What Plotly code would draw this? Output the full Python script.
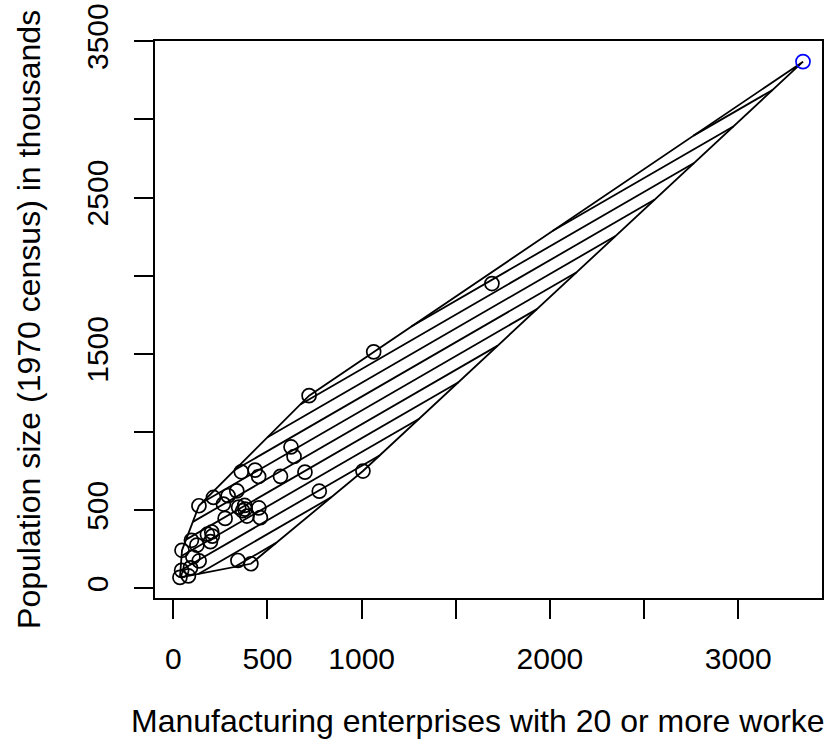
import math
import plotly.graph_objects as go

# US cities: manufacturing enterprises (>= 20 workers) and population (thousands, 1970 census)
cities = [
    "Albany", "Albuquerque", "Atlanta", "Baltimore", "Buffalo", "Charleston",
    "Chicago", "Cincinnati", "Cleveland", "Columbus", "Dallas", "Denver",
    "Des Moines", "Detroit", "Hartford", "Houston", "Indianapolis",
    "Jacksonville", "Kansas City", "Little Rock", "Louisville", "Memphis",
    "Miami", "Milwaukee", "Minneapolis", "Nashville", "New Orleans", "Norfolk",
    "Omaha", "Philadelphia", "Phoenix", "Pittsburgh", "Providence", "Richmond",
    "Salt Lake City", "San Francisco", "Seattle", "St. Louis", "Washington",
    "Wichita", "Wilmington",
]
manu = [44, 46, 368, 625, 391, 35, 3344, 462, 1007, 266, 641, 454, 104, 1064,
        412, 721, 361, 136, 381, 91, 291, 337, 207, 569, 699, 275, 204, 96,
        181, 1692, 213, 347, 343, 197, 137, 453, 379, 775, 434, 125, 80]
popul = [116, 244, 497, 905, 463, 71, 3369, 453, 751, 540, 844, 515, 201, 1513,
         158, 1233, 746, 529, 507, 132, 593, 624, 335, 717, 744, 448, 361, 308,
         347, 1950, 582, 520, 179, 299, 176, 716, 531, 622, 757, 277, 80]
highlight = "Chicago"

x_ticks = [0, 500, 1000, 1500, 2000, 2500, 3000]
x_tick_text = ["0", "500", "1000", "", "2000", "", "3000"]
y_ticks = [0, 500, 1000, 1500, 2000, 2500, 3000, 3500]
y_tick_text = ["0", "500", "", "1500", "", "2500", "", "3500"]

x_title = "Manufacturing enterprises with 20 or more workers"
y_title = "Population size (1970 census) in thousands"

# layout geometry
FIG_W, FIG_H = 824, 752
M_L, M_R, M_T, M_B = 155, 0, 40.5, 153.5
X_RANGE = [-97.4, 3444.9]
Y_RANGE = [-60.9, 3500.9]
FONT = "Liberation Sans, Arial, Helvetica, sans-serif"
HATCH_ANGLE = 30.0       # degrees, measured on screen
HATCH_SPACING_PX = 12.0  # perpendicular distance between hatch lines


def convex_hull(pts):
    pts = sorted(set(pts))
    if len(pts) <= 2:
        return pts

    def cross(o, a, b):
        return (a[0] - o[0]) * (b[1] - o[1]) - (a[1] - o[1]) * (b[0] - o[0])

    lower, upper = [], []
    for p in pts:
        while len(lower) >= 2 and cross(lower[-2], lower[-1], p) <= 0:
            lower.pop()
        lower.append(p)
    for p in reversed(pts):
        while len(upper) >= 2 and cross(upper[-2], upper[-1], p) <= 0:
            upper.pop()
        upper.append(p)
    return lower[:-1] + upper[:-1]


hull = convex_hull(list(zip(manu, popul)))

# pixels per data unit along each axis
plot_w = FIG_W - M_L - M_R
plot_h = FIG_H - M_T - M_B
ppx = plot_w / (X_RANGE[1] - X_RANGE[0])
ppy = plot_h / (Y_RANGE[1] - Y_RANGE[0])

rad = math.radians(HATCH_ANGLE)
slope = math.tan(rad) * ppx / ppy                 # data-space slope of hatch lines
y_shift = HATCH_SPACING_PX / math.cos(rad) / ppy  # vertical step in data units

# hatch lines y = b + slope * x, with b on multiples of y_shift, clipped to the hull
offsets = [py - slope * px for px, py in hull]
k0 = math.ceil(min(offsets) / y_shift)
k1 = math.floor(max(offsets) / y_shift)
hx, hy = [], []
n = len(hull)
for k in range(k0, k1 + 1):
    b = k * y_shift
    cuts = []
    for i in range(n):
        p, q = hull[i], hull[(i + 1) % n]
        fp = p[1] - slope * p[0] - b
        fq = q[1] - slope * q[0] - b
        if fp * fq < 0:
            t = fp / (fp - fq)
            cuts.append((p[0] + t * (q[0] - p[0]), p[1] + t * (q[1] - p[1])))
    if len(cuts) >= 2:
        cuts.sort()
        hx += [cuts[0][0], cuts[-1][0], None]
        hy += [cuts[0][1], cuts[-1][1], None]

fig = go.Figure()

fig.add_trace(go.Scatter(
    x=hx, y=hy, mode="lines",
    line=dict(color="black", width=1.8),
    hoverinfo="skip", showlegend=False,
))
fig.add_trace(go.Scatter(
    x=[p[0] for p in hull] + [hull[0][0]],
    y=[p[1] for p in hull] + [hull[0][1]],
    mode="lines", line=dict(color="black", width=1.8),
    hoverinfo="skip", showlegend=False,
))

others = [i for i, c in enumerate(cities) if c != highlight]
hi = [i for i, c in enumerate(cities) if c == highlight]
fig.add_trace(go.Scatter(
    x=[manu[i] for i in others], y=[popul[i] for i in others],
    text=[cities[i] for i in others],
    mode="markers",
    marker=dict(symbol="circle-open", size=14, color="black",
                line=dict(width=1.7, color="black")),
    showlegend=False,
))
fig.add_trace(go.Scatter(
    x=[manu[i] for i in hi], y=[popul[i] for i in hi],
    text=[cities[i] for i in hi],
    mode="markers",
    marker=dict(symbol="circle-open", size=14, color="blue",
                line=dict(width=1.7, color="blue")),
    showlegend=False,
))

axis_common = dict(
    showgrid=False, zeroline=False,
    showline=True, mirror=True, linecolor="black", linewidth=2,
    ticks="outside", ticklen=19, tickwidth=2, tickcolor="black",
    tickfont=dict(family=FONT, size=30, color="black"),
)
fig.update_xaxes(range=X_RANGE, tickmode="array", tickvals=x_ticks,
                 ticktext=x_tick_text, ticklabelstandoff=14, **axis_common)
fig.update_yaxes(range=Y_RANGE, tickmode="array", tickvals=y_ticks,
                 ticktext=y_tick_text, tickangle=-90, ticklabelstandoff=14,
                 **axis_common)

# axis titles, centred on the full plotting region
x_center = X_RANGE[0] + (830 - M_L) / 2 / ppx
fig.add_annotation(text=x_title, x=x_center, xref="x", y=-0.2214, yref="paper",
                   xanchor="center", yanchor="middle", showarrow=False,
                   font=dict(family=FONT, size=32, color="black"))
fig.add_annotation(text=y_title, x=-0.1898, xref="paper",
                   y=(Y_RANGE[0] + Y_RANGE[1]) / 2, yref="y",
                   xanchor="center", yanchor="middle", textangle=-90,
                   showarrow=False,
                   font=dict(family=FONT, size=32, color="black"))

fig.update_layout(
    width=FIG_W, height=FIG_H,
    margin=dict(l=M_L, r=M_R, t=M_T, b=M_B, pad=0),
    paper_bgcolor="white", plot_bgcolor="white",
)

fig.write_html("out.html")
